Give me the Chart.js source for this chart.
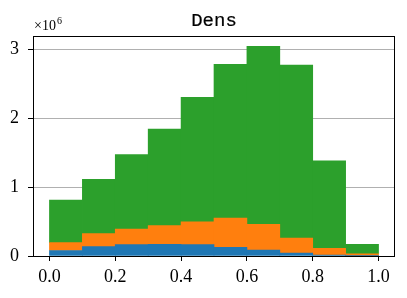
<!DOCTYPE html>
<html>
<head>
<meta charset="utf-8">
<script src="https://cdn.jsdelivr.net/npm/chart.js@4.4.1/dist/chart.umd.min.js"></script>
<style>
  html, body { margin: 0; padding: 0; background: #fff; }
</style>
</head>
<body>
<canvas id="myChart" width="407" height="298"></canvas>
<script>
// histogram bins (centre of each 0.1 wide bin)
var binCenters = [0.05, 0.15, 0.25, 0.35, 0.45, 0.55, 0.65, 0.75, 0.85, 0.95]
// stacked counts, in units of 1e6
var blueVals   = [0.080, 0.135, 0.165, 0.170, 0.165, 0.125, 0.087, 0.043, 0.015, 0.004]
var orangeVals = [0.115, 0.190, 0.225, 0.270, 0.330, 0.425, 0.373, 0.217, 0.095, 0.026]
var greenVals  = [0.615, 0.785, 1.080, 1.400, 1.805, 2.230, 2.580, 2.510, 1.270, 0.140]
var xTicks = [0, 0.2, 0.4, 0.6, 0.8, 1.0]
var yTicks = [0, 1, 2, 3]
var titleText = 'Dens'

var tickFont = { family: "'Liberation Serif', serif", size: 18 }

function toPoints(vals) {
  return vals.map(function(v, i) { return { x: binCenters[i], y: v } })
}

// frame, title and the x10^6 offset label
var decor = {
  id: 'decor',
  afterDatasetsDraw: function(chart) {
    var ctx = chart.ctx
    var a = chart.chartArea
    ctx.save()
    ctx.strokeStyle = '#000'
    ctx.lineWidth = 1
    ctx.strokeRect(Math.round(a.left) + 0.5, Math.round(a.top) + 0.5,
      Math.round(a.right - a.left) - 1, Math.round(a.bottom - a.top))
    ctx.fillStyle = '#000'
    ctx.textBaseline = 'alphabetic'
    ctx.textAlign = 'center'
    ctx.font = "19px 'Liberation Mono', monospace"
    ctx.fillText(titleText, (a.left + a.right) / 2, 26)
    // typewriter face is a bit heavier than Liberation Mono
    ctx.lineWidth = 0.2
    ctx.strokeText(titleText, (a.left + a.right) / 2, 26)
    ctx.textAlign = 'left'
    ctx.font = "14px 'Liberation Serif', serif"
    ctx.fillText('\u00d710', a.left + 1, 30)
    var w = ctx.measureText('\u00d710').width
    ctx.font = "10px 'Liberation Serif', serif"
    ctx.fillText('6', a.left + 1 + w + 1, 24)
    ctx.restore()
  }
}

var ctx = document.getElementById('myChart').getContext('2d')
var chart = new Chart(ctx, {
  type: 'bar',
  data: {
    datasets: [
      { label: 'a', data: toPoints(blueVals),   backgroundColor: '#1f77b4', borderWidth: 0 },
      { label: 'b', data: toPoints(orangeVals), backgroundColor: '#ff7f0e', borderWidth: 0 },
      { label: 'c', data: toPoints(greenVals),  backgroundColor: '#2ca02c', borderWidth: 0 }
    ]
  },
  options: {
    responsive: false,
    animation: false,
    devicePixelRatio: 1,
    barPercentage: 1,
    categoryPercentage: 1,
    layout: { padding: { top: 36, left: 0, right: 12, bottom: 0 } },
    plugins: {
      legend: { display: false },
      title: { display: false },
      tooltip: { enabled: false }
    },
    scales: {
      x: {
        type: 'linear',
        stacked: true,
        offset: false,
        min: -0.05,
        max: 1.05,
        afterBuildTicks: function(scale) {
          scale.ticks = xTicks.map(function(v) { return { value: v } })
        },
        afterFit: function(scale) { scale.height = 42 },
        grid: { offset: false, drawOnChartArea: false, tickColor: '#000', tickLength: 5 },
        border: { display: false },
        ticks: {
          color: '#000',
          font: tickFont,
          padding: 5,
          maxRotation: 0,
          callback: function(v) { return Number(v).toFixed(1) }
        }
      },
      y: {
        stacked: true,
        min: 0,
        max: 3.19,
        afterBuildTicks: function(scale) {
          scale.ticks = yTicks.map(function(v) { return { value: v } })
        },
        afterFit: function(scale) { scale.width = 33 },
        grid: { color: '#b0b0b0', lineWidth: 1, tickColor: '#000', tickLength: 5 },
        border: { display: false },
        ticks: {
          color: '#000',
          font: tickFont,
          padding: 9,
          callback: function(v) { return String(v) }
        }
      }
    }
  },
  plugins: [decor]
})
</script>
</body>
</html>
